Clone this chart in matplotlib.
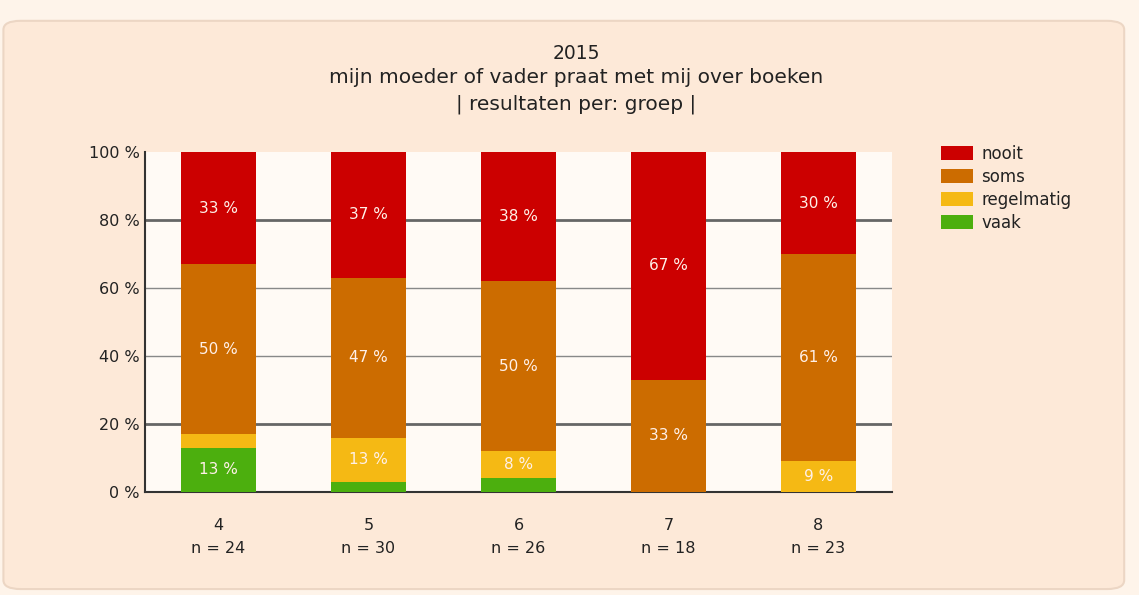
import numpy as np
from matplotlib import pyplot as plt
from matplotlib.patches import FancyBboxPatch

groepen = ["4", "5", "6", "7", "8"]
n_values = [24, 30, 26, 18, 23]
categories = ["vaak", "regelmatig", "soms", "nooit"]
vaak = [13, 3, 4, 0, 0]
regelmatig = [4, 13, 8, 0, 9]
soms = [50, 47, 50, 33, 61]
nooit = [33, 37, 38, 67, 30]
colors = ["#4caf0e", "#f5b914", "#cc6c00", "#cc0000"]

series = [vaak, regelmatig, soms, nooit]

fig = plt.figure(figsize=(11.39, 5.95), dpi=100)
fig.patch.set_facecolor("#fef4ea")
panel = FancyBboxPatch((0.003, 0.01), 0.984, 0.955, boxstyle="round,pad=0,rounding_size=0.015",
                       transform=fig.transFigure, facecolor="#fde9d8", edgecolor="#ecd6c4",
                       linewidth=1.5, zorder=-10)
fig.patches.append(panel)

ax = fig.add_axes([0.1273, 0.1731, 0.6558, 0.5714])
ax.set_facecolor("#fffaf5")

x = np.arange(len(groepen))
bottom = np.zeros(len(groepen))
for vals, color, name in zip(series, colors, categories):
    vals = np.array(vals, dtype=float)
    ax.bar(x, vals, 0.5, bottom=bottom, color=color, label=name, zorder=3)
    for xi, v, b in zip(x, vals, bottom):
        if v >= 5:
            ax.text(xi, b + v / 2, f"{v:.0f} %", ha="center", va="center",
                    color="#fff0e8", fontsize=11, zorder=4)
    bottom += vals

ax.set_xlim(-0.49, 4.49)
ax.set_ylim(0, 100)
ax.set_yticks([0, 20, 40, 60, 80, 100])
ax.set_yticklabels([f"{t} %" for t in [0, 20, 40, 60, 80, 100]], fontsize=11.5, color="#222222")
ax.set_xticks(x)
ax.set_xticklabels([f"{g}\nn = {n}" for g, n in zip(groepen, n_values)], fontsize=11.5,
                   color="#222222", linespacing=1.65)
ax.tick_params(axis="both", length=0)
ax.tick_params(axis="x", pad=19)
ax.tick_params(axis="y", pad=4)

for y, lw, c in [(20, 2, "#666666"), (40, 1, "#888888"), (60, 1, "#888888"), (80, 2, "#666666")]:
    ax.axhline(y, color=c, linewidth=lw, zorder=1)

for s in ["top", "right"]:
    ax.spines[s].set_visible(False)
ax.spines["left"].set_color("#333333")
ax.spines["bottom"].set_color("#333333")
ax.spines["left"].set_linewidth(1.5)
ax.spines["bottom"].set_linewidth(1.5)

fig.text(0.506, 0.91, "2015", ha="center", va="center", fontsize=13.5, color="#222222")
fig.text(0.506, 0.869, "mijn moeder of vader praat met mij over boeken", ha="center", va="center",
         fontsize=14.5, color="#222222")
fig.text(0.506, 0.825, "| resultaten per: groep |", ha="center", va="center",
         fontsize=14.5, color="#222222")

handles, labels = ax.get_legend_handles_labels()
leg = fig.legend(handles[::-1], labels[::-1], loc="upper left", bbox_to_anchor=(0.813, 0.782),
                 frameon=False, fontsize=12, handlelength=1.9, handleheight=0.95,
                 labelspacing=0.3, handletextpad=0.5)
for t in leg.get_texts():
    t.set_color("#222222")

fig.savefig("out.png", dpi=100, facecolor=fig.get_facecolor())
